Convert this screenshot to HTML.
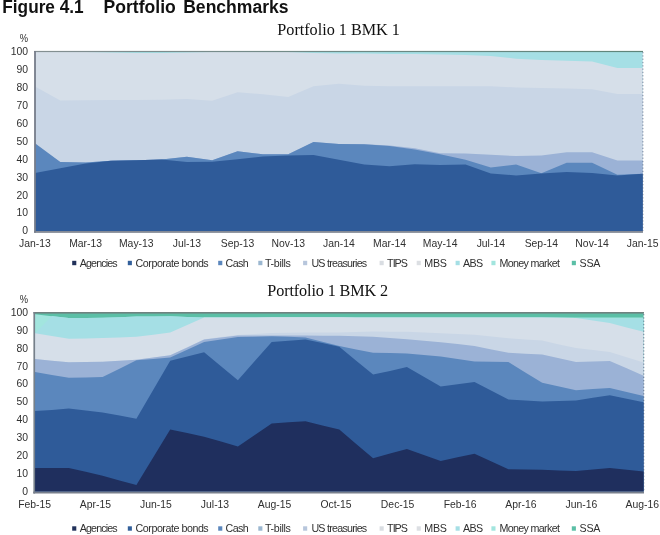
<!DOCTYPE html>
<html><head><meta charset="utf-8"><title>Figure 4.1 Portfolio Benchmarks</title>
<style>html,body{margin:0;padding:0;background:#fff;}body{width:660px;height:535px;position:relative;overflow:hidden;font-family:"Liberation Sans",sans-serif;}</style>
</head><body>
<svg width="660" height="535" viewBox="0 0 660 535" style="position:absolute;left:0;top:0;will-change:transform">
<path d="M35.0 52.0 L60.3 52.0 L85.6 52.0 L111.0 52.0 L136.3 52.0 L161.6 52.0 L186.9 52.0 L212.2 52.0 L237.6 52.0 L262.9 52.0 L288.2 52.0 L313.5 52.0 L338.9 52.0 L364.2 52.0 L389.5 52.0 L414.8 52.0 L440.1 52.0 L465.5 52.0 L490.8 52.0 L516.1 52.0 L541.4 52.0 L566.7 52.0 L592.1 52.0 L617.4 52.0 L642.7 52.0 L642.7 231.0 L617.4 231.0 L592.1 231.0 L566.7 231.0 L541.4 231.0 L516.1 231.0 L490.8 231.0 L465.5 231.0 L440.1 231.0 L414.8 231.0 L389.5 231.0 L364.2 231.0 L338.9 231.0 L313.5 231.0 L288.2 231.0 L262.9 231.0 L237.6 231.0 L212.2 231.0 L186.9 231.0 L161.6 231.0 L136.3 231.0 L111.0 231.0 L85.6 231.0 L60.3 231.0 L35.0 231.0Z" fill="#a5dfe5"/>
<path d="M35.0 52.0 L60.3 52.0 L85.6 52.0 L111.0 52.4 L136.3 52.9 L161.6 52.9 L186.9 52.4 L212.2 52.0 L237.6 52.0 L262.9 52.0 L288.2 52.0 L313.5 52.9 L338.9 53.4 L364.2 53.6 L389.5 53.9 L414.8 54.1 L440.1 54.5 L465.5 55.0 L490.8 55.9 L516.1 58.8 L541.4 60.1 L566.7 60.8 L592.1 61.5 L617.4 68.1 L642.7 68.1 L642.7 231.0 L617.4 231.0 L592.1 231.0 L566.7 231.0 L541.4 231.0 L516.1 231.0 L490.8 231.0 L465.5 231.0 L440.1 231.0 L414.8 231.0 L389.5 231.0 L364.2 231.0 L338.9 231.0 L313.5 231.0 L288.2 231.0 L262.9 231.0 L237.6 231.0 L212.2 231.0 L186.9 231.0 L161.6 231.0 L136.3 231.0 L111.0 231.0 L85.6 231.0 L60.3 231.0 L35.0 231.0Z" fill="#d6dfe9"/>
<path d="M35.0 86.6 L60.3 100.5 L85.6 100.3 L111.0 100.1 L136.3 100.0 L161.6 99.8 L186.9 98.9 L212.2 100.7 L237.6 92.2 L262.9 94.2 L288.2 97.1 L313.5 86.3 L338.9 83.8 L364.2 85.7 L389.5 86.3 L414.8 86.3 L440.1 86.3 L465.5 86.3 L490.8 86.3 L516.1 87.4 L541.4 88.1 L566.7 88.6 L592.1 89.3 L617.4 94.0 L642.7 94.0 L642.7 231.0 L617.4 231.0 L592.1 231.0 L566.7 231.0 L541.4 231.0 L516.1 231.0 L490.8 231.0 L465.5 231.0 L440.1 231.0 L414.8 231.0 L389.5 231.0 L364.2 231.0 L338.9 231.0 L313.5 231.0 L288.2 231.0 L262.9 231.0 L237.6 231.0 L212.2 231.0 L186.9 231.0 L161.6 231.0 L136.3 231.0 L111.0 231.0 L85.6 231.0 L60.3 231.0 L35.0 231.0Z" fill="#c9d6e6"/>
<path d="M35.0 144.8 L60.3 162.1 L85.6 162.6 L111.0 160.8 L136.3 160.3 L161.6 159.5 L186.9 156.8 L212.2 160.3 L237.6 151.3 L262.9 154.3 L288.2 154.3 L313.5 142.1 L338.9 143.9 L364.2 144.2 L389.5 145.5 L414.8 148.2 L440.1 153.2 L465.5 153.6 L490.8 154.7 L516.1 156.1 L541.4 155.6 L566.7 152.3 L592.1 152.3 L617.4 160.4 L642.7 160.4 L642.7 231.0 L617.4 231.0 L592.1 231.0 L566.7 231.0 L541.4 231.0 L516.1 231.0 L490.8 231.0 L465.5 231.0 L440.1 231.0 L414.8 231.0 L389.5 231.0 L364.2 231.0 L338.9 231.0 L313.5 231.0 L288.2 231.0 L262.9 231.0 L237.6 231.0 L212.2 231.0 L186.9 231.0 L161.6 231.0 L136.3 231.0 L111.0 231.0 L85.6 231.0 L60.3 231.0 L35.0 231.0Z" fill="#9bb2d6"/>
<path d="M35.0 143.3 L60.3 162.1 L85.6 162.6 L111.0 160.8 L136.3 160.3 L161.6 159.5 L186.9 156.8 L212.2 160.3 L237.6 151.3 L262.9 154.3 L288.2 154.3 L313.5 142.1 L338.9 143.9 L364.2 144.2 L389.5 145.9 L414.8 149.5 L440.1 154.3 L465.5 159.7 L490.8 167.6 L516.1 164.6 L541.4 173.2 L566.7 162.8 L592.1 162.8 L617.4 174.8 L642.7 173.8 L642.7 231.0 L617.4 231.0 L592.1 231.0 L566.7 231.0 L541.4 231.0 L516.1 231.0 L490.8 231.0 L465.5 231.0 L440.1 231.0 L414.8 231.0 L389.5 231.0 L364.2 231.0 L338.9 231.0 L313.5 231.0 L288.2 231.0 L262.9 231.0 L237.6 231.0 L212.2 231.0 L186.9 231.0 L161.6 231.0 L136.3 231.0 L111.0 231.0 L85.6 231.0 L60.3 231.0 L35.0 231.0Z" fill="#5b87bd"/>
<path d="M35.0 173.0 L60.3 168.2 L85.6 163.5 L111.0 160.8 L136.3 160.3 L161.6 159.5 L186.9 162.1 L212.2 161.7 L237.6 159.2 L262.9 156.5 L288.2 155.6 L313.5 155.0 L338.9 159.7 L364.2 164.6 L389.5 166.2 L414.8 164.2 L440.1 164.9 L465.5 164.6 L490.8 173.6 L516.1 175.4 L541.4 173.6 L566.7 172.1 L592.1 173.0 L617.4 175.4 L642.7 173.8 L642.7 231.0 L617.4 231.0 L592.1 231.0 L566.7 231.0 L541.4 231.0 L516.1 231.0 L490.8 231.0 L465.5 231.0 L440.1 231.0 L414.8 231.0 L389.5 231.0 L364.2 231.0 L338.9 231.0 L313.5 231.0 L288.2 231.0 L262.9 231.0 L237.6 231.0 L212.2 231.0 L186.9 231.0 L161.6 231.0 L136.3 231.0 L111.0 231.0 L85.6 231.0 L60.3 231.0 L35.0 231.0Z" fill="#2f5b99"/>
<defs><linearGradient id="tg" x1="0" x2="1" y1="0" y2="0"><stop offset="0" stop-color="#848f92"/><stop offset="0.5" stop-color="#6f8a86"/><stop offset="1" stop-color="#5f857a"/></linearGradient></defs>
<rect x="34.1" y="50.9" width="608.9" height="1.2" fill="url(#tg)"/>
<rect x="34.1" y="51" width="1.8" height="181.7" fill="#767d8a"/>
<rect x="34.1" y="231.1" width="608.9" height="1.7" fill="#787f8c"/>
<line x1="642.9" y1="52" x2="642.9" y2="231" stroke="#4a5a78" stroke-width="0.8" stroke-dasharray="1.3 2" opacity="0.85"/>
<path d="M35.0 312.5 L51.9 312.5 L68.8 312.5 L85.7 312.5 L102.6 312.5 L119.5 312.5 L136.4 312.5 L153.3 312.5 L170.2 312.5 L187.2 312.5 L204.1 312.5 L221.0 312.5 L237.9 312.5 L254.8 312.5 L271.7 312.5 L288.6 312.5 L305.5 312.5 L322.4 312.5 L339.3 312.5 L356.2 312.5 L373.1 312.5 L390.0 312.5 L406.9 312.5 L423.8 312.5 L440.7 312.5 L457.6 312.5 L474.5 312.5 L491.5 312.5 L508.4 312.5 L525.3 312.5 L542.2 312.5 L559.1 312.5 L576.0 312.5 L592.9 312.5 L609.8 312.5 L626.7 312.5 L643.6 312.5 L643.6 491.5 L626.7 491.5 L609.8 491.5 L592.9 491.5 L576.0 491.5 L559.1 491.5 L542.2 491.5 L525.3 491.5 L508.4 491.5 L491.5 491.5 L474.5 491.5 L457.6 491.5 L440.7 491.5 L423.8 491.5 L406.9 491.5 L390.0 491.5 L373.1 491.5 L356.2 491.5 L339.3 491.5 L322.4 491.5 L305.5 491.5 L288.6 491.5 L271.7 491.5 L254.8 491.5 L237.9 491.5 L221.0 491.5 L204.1 491.5 L187.2 491.5 L170.2 491.5 L153.3 491.5 L136.4 491.5 L119.5 491.5 L102.6 491.5 L85.7 491.5 L68.8 491.5 L51.9 491.5 L35.0 491.5Z" fill="#5bbfa6"/>
<path d="M35.0 314.3 L51.9 316.2 L68.8 318.0 L85.7 317.9 L102.6 317.7 L119.5 317.2 L136.4 316.6 L153.3 316.4 L170.2 316.3 L187.2 316.9 L204.1 317.5 L221.0 317.5 L237.9 317.5 L254.8 317.4 L271.7 317.3 L288.6 317.3 L305.5 317.3 L322.4 317.3 L339.3 317.3 L356.2 317.4 L373.1 317.5 L390.0 317.5 L406.9 317.5 L423.8 317.5 L440.7 317.5 L457.6 317.5 L474.5 317.5 L491.5 317.5 L508.4 317.5 L525.3 317.5 L542.2 317.5 L559.1 317.5 L576.0 317.5 L592.9 317.5 L609.8 317.5 L626.7 317.5 L643.6 317.5 L643.6 491.5 L626.7 491.5 L609.8 491.5 L592.9 491.5 L576.0 491.5 L559.1 491.5 L542.2 491.5 L525.3 491.5 L508.4 491.5 L491.5 491.5 L474.5 491.5 L457.6 491.5 L440.7 491.5 L423.8 491.5 L406.9 491.5 L390.0 491.5 L373.1 491.5 L356.2 491.5 L339.3 491.5 L322.4 491.5 L305.5 491.5 L288.6 491.5 L271.7 491.5 L254.8 491.5 L237.9 491.5 L221.0 491.5 L204.1 491.5 L187.2 491.5 L170.2 491.5 L153.3 491.5 L136.4 491.5 L119.5 491.5 L102.6 491.5 L85.7 491.5 L68.8 491.5 L51.9 491.5 L35.0 491.5Z" fill="#a2e5de"/>
<path d="M35.0 333.3 L51.9 316.1 L68.8 318.0 L85.7 317.9 L102.6 317.7 L119.5 317.2 L136.4 316.6 L153.3 316.4 L170.2 316.3 L187.2 316.9 L204.1 317.5 L221.0 317.5 L237.9 317.5 L254.8 317.4 L271.7 317.3 L288.6 317.3 L305.5 317.3 L322.4 317.3 L339.3 317.3 L356.2 317.4 L373.1 317.5 L390.0 317.5 L406.9 317.5 L423.8 317.5 L440.7 317.5 L457.6 317.5 L474.5 317.5 L491.5 317.5 L508.4 317.5 L525.3 317.5 L542.2 317.5 L559.1 317.7 L576.0 317.9 L592.9 318.1 L609.8 318.4 L626.7 318.4 L643.6 318.4 L643.6 491.5 L626.7 491.5 L609.8 491.5 L592.9 491.5 L576.0 491.5 L559.1 491.5 L542.2 491.5 L525.3 491.5 L508.4 491.5 L491.5 491.5 L474.5 491.5 L457.6 491.5 L440.7 491.5 L423.8 491.5 L406.9 491.5 L390.0 491.5 L373.1 491.5 L356.2 491.5 L339.3 491.5 L322.4 491.5 L305.5 491.5 L288.6 491.5 L271.7 491.5 L254.8 491.5 L237.9 491.5 L221.0 491.5 L204.1 491.5 L187.2 491.5 L170.2 491.5 L153.3 491.5 L136.4 491.5 L119.5 491.5 L102.6 491.5 L85.7 491.5 L68.8 491.5 L51.9 491.5 L35.0 491.5Z" fill="#a5dfe5"/>
<path d="M35.0 333.3 L51.9 336.0 L68.8 338.8 L85.7 338.5 L102.6 338.1 L119.5 337.5 L136.4 336.8 L153.3 334.7 L170.2 332.5 L187.2 325.0 L204.1 317.5 L221.0 317.5 L237.9 317.5 L254.8 317.4 L271.7 317.3 L288.6 317.3 L305.5 317.3 L322.4 317.3 L339.3 317.3 L356.2 317.4 L373.1 317.5 L390.0 317.5 L406.9 317.5 L423.8 317.5 L440.7 317.5 L457.6 317.5 L474.5 317.5 L491.5 317.5 L508.4 317.5 L525.3 317.5 L542.2 317.5 L559.1 317.7 L576.0 317.9 L592.9 320.5 L609.8 323.1 L626.7 327.4 L643.6 331.7 L643.6 491.5 L626.7 491.5 L609.8 491.5 L592.9 491.5 L576.0 491.5 L559.1 491.5 L542.2 491.5 L525.3 491.5 L508.4 491.5 L491.5 491.5 L474.5 491.5 L457.6 491.5 L440.7 491.5 L423.8 491.5 L406.9 491.5 L390.0 491.5 L373.1 491.5 L356.2 491.5 L339.3 491.5 L322.4 491.5 L305.5 491.5 L288.6 491.5 L271.7 491.5 L254.8 491.5 L237.9 491.5 L221.0 491.5 L204.1 491.5 L187.2 491.5 L170.2 491.5 L153.3 491.5 L136.4 491.5 L119.5 491.5 L102.6 491.5 L85.7 491.5 L68.8 491.5 L51.9 491.5 L35.0 491.5Z" fill="#d6dfe9"/>
<path d="M35.0 359.0 L51.9 360.7 L68.8 362.3 L85.7 362.0 L102.6 361.7 L119.5 360.7 L136.4 359.8 L153.3 357.5 L170.2 355.3 L187.2 347.2 L204.1 339.2 L221.0 337.0 L237.9 334.9 L254.8 333.9 L271.7 332.9 L288.6 332.7 L305.5 332.5 L322.4 332.5 L339.3 332.4 L356.2 331.9 L373.1 331.5 L390.0 331.7 L406.9 331.8 L423.8 332.5 L440.7 333.3 L457.6 334.0 L474.5 334.7 L491.5 336.5 L508.4 338.3 L525.3 339.4 L542.2 340.6 L559.1 344.4 L576.0 348.1 L592.9 350.0 L609.8 351.9 L626.7 357.2 L643.6 362.4 L643.6 491.5 L626.7 491.5 L609.8 491.5 L592.9 491.5 L576.0 491.5 L559.1 491.5 L542.2 491.5 L525.3 491.5 L508.4 491.5 L491.5 491.5 L474.5 491.5 L457.6 491.5 L440.7 491.5 L423.8 491.5 L406.9 491.5 L390.0 491.5 L373.1 491.5 L356.2 491.5 L339.3 491.5 L322.4 491.5 L305.5 491.5 L288.6 491.5 L271.7 491.5 L254.8 491.5 L237.9 491.5 L221.0 491.5 L204.1 491.5 L187.2 491.5 L170.2 491.5 L153.3 491.5 L136.4 491.5 L119.5 491.5 L102.6 491.5 L85.7 491.5 L68.8 491.5 L51.9 491.5 L35.0 491.5Z" fill="#c9d6e6"/>
<path d="M35.0 359.0 L51.9 360.7 L68.8 362.3 L85.7 362.0 L102.6 361.7 L119.5 360.7 L136.4 359.8 L153.3 357.5 L170.2 355.3 L187.2 347.4 L204.1 339.5 L221.0 337.6 L237.9 335.6 L254.8 335.5 L271.7 335.4 L288.6 335.5 L305.5 335.6 L322.4 335.7 L339.3 335.8 L356.2 336.2 L373.1 336.7 L390.0 337.9 L406.9 339.2 L423.8 340.7 L440.7 342.2 L457.6 344.1 L474.5 346.0 L491.5 349.4 L508.4 352.8 L525.3 353.7 L542.2 354.6 L559.1 358.2 L576.0 361.9 L592.9 361.5 L609.8 361.0 L626.7 368.3 L643.6 375.7 L643.6 491.5 L626.7 491.5 L609.8 491.5 L592.9 491.5 L576.0 491.5 L559.1 491.5 L542.2 491.5 L525.3 491.5 L508.4 491.5 L491.5 491.5 L474.5 491.5 L457.6 491.5 L440.7 491.5 L423.8 491.5 L406.9 491.5 L390.0 491.5 L373.1 491.5 L356.2 491.5 L339.3 491.5 L322.4 491.5 L305.5 491.5 L288.6 491.5 L271.7 491.5 L254.8 491.5 L237.9 491.5 L221.0 491.5 L204.1 491.5 L187.2 491.5 L170.2 491.5 L153.3 491.5 L136.4 491.5 L119.5 491.5 L102.6 491.5 L85.7 491.5 L68.8 491.5 L51.9 491.5 L35.0 491.5Z" fill="#9bb2d6"/>
<path d="M35.0 371.9 L51.9 374.9 L68.8 377.8 L85.7 377.5 L102.6 377.1 L119.5 368.7 L136.4 360.3 L153.3 358.9 L170.2 357.4 L187.2 349.7 L204.1 342.0 L221.0 339.5 L237.9 337.0 L254.8 336.7 L271.7 336.3 L288.6 336.8 L305.5 337.4 L322.4 341.7 L339.3 346.0 L356.2 349.4 L373.1 352.8 L390.0 353.1 L406.9 353.5 L423.8 354.9 L440.7 356.4 L457.6 358.9 L474.5 361.4 L491.5 361.7 L508.4 362.1 L525.3 372.4 L542.2 382.7 L559.1 386.4 L576.0 390.2 L592.9 389.0 L609.8 387.9 L626.7 391.9 L643.6 395.9 L643.6 491.5 L626.7 491.5 L609.8 491.5 L592.9 491.5 L576.0 491.5 L559.1 491.5 L542.2 491.5 L525.3 491.5 L508.4 491.5 L491.5 491.5 L474.5 491.5 L457.6 491.5 L440.7 491.5 L423.8 491.5 L406.9 491.5 L390.0 491.5 L373.1 491.5 L356.2 491.5 L339.3 491.5 L322.4 491.5 L305.5 491.5 L288.6 491.5 L271.7 491.5 L254.8 491.5 L237.9 491.5 L221.0 491.5 L204.1 491.5 L187.2 491.5 L170.2 491.5 L153.3 491.5 L136.4 491.5 L119.5 491.5 L102.6 491.5 L85.7 491.5 L68.8 491.5 L51.9 491.5 L35.0 491.5Z" fill="#5b87bd"/>
<path d="M35.0 411.1 L51.9 409.9 L68.8 408.6 L85.7 410.5 L102.6 412.4 L119.5 415.6 L136.4 418.8 L153.3 389.8 L170.2 360.8 L187.2 356.5 L204.1 352.2 L221.0 366.2 L237.9 380.2 L254.8 361.1 L271.7 342.0 L288.6 340.8 L305.5 339.5 L322.4 343.1 L339.3 346.7 L356.2 360.7 L373.1 374.6 L390.0 370.9 L406.9 367.1 L423.8 376.8 L440.7 386.4 L457.6 384.3 L474.5 382.1 L491.5 390.8 L508.4 399.5 L525.3 400.6 L542.2 401.6 L559.1 401.0 L576.0 400.4 L592.9 397.8 L609.8 395.2 L626.7 398.7 L643.6 402.2 L643.6 491.5 L626.7 491.5 L609.8 491.5 L592.9 491.5 L576.0 491.5 L559.1 491.5 L542.2 491.5 L525.3 491.5 L508.4 491.5 L491.5 491.5 L474.5 491.5 L457.6 491.5 L440.7 491.5 L423.8 491.5 L406.9 491.5 L390.0 491.5 L373.1 491.5 L356.2 491.5 L339.3 491.5 L322.4 491.5 L305.5 491.5 L288.6 491.5 L271.7 491.5 L254.8 491.5 L237.9 491.5 L221.0 491.5 L204.1 491.5 L187.2 491.5 L170.2 491.5 L153.3 491.5 L136.4 491.5 L119.5 491.5 L102.6 491.5 L85.7 491.5 L68.8 491.5 L51.9 491.5 L35.0 491.5Z" fill="#2f5b99"/>
<path d="M35.0 467.9 L51.9 467.9 L68.8 467.9 L85.7 471.8 L102.6 475.7 L119.5 480.4 L136.4 485.1 L153.3 457.3 L170.2 429.6 L187.2 433.1 L204.1 436.7 L221.0 441.6 L237.9 446.4 L254.8 434.9 L271.7 423.5 L288.6 422.3 L305.5 421.2 L322.4 425.4 L339.3 429.6 L356.2 443.9 L373.1 458.2 L390.0 453.6 L406.9 448.9 L423.8 454.9 L440.7 460.9 L457.6 457.3 L474.5 453.7 L491.5 461.5 L508.4 469.3 L525.3 469.6 L542.2 469.8 L559.1 470.5 L576.0 471.1 L592.9 469.5 L609.8 467.9 L626.7 469.7 L643.6 471.5 L643.6 491.5 L626.7 491.5 L609.8 491.5 L592.9 491.5 L576.0 491.5 L559.1 491.5 L542.2 491.5 L525.3 491.5 L508.4 491.5 L491.5 491.5 L474.5 491.5 L457.6 491.5 L440.7 491.5 L423.8 491.5 L406.9 491.5 L390.0 491.5 L373.1 491.5 L356.2 491.5 L339.3 491.5 L322.4 491.5 L305.5 491.5 L288.6 491.5 L271.7 491.5 L254.8 491.5 L237.9 491.5 L221.0 491.5 L204.1 491.5 L187.2 491.5 L170.2 491.5 L153.3 491.5 L136.4 491.5 L119.5 491.5 L102.6 491.5 L85.7 491.5 L68.8 491.5 L51.9 491.5 L35.0 491.5Z" fill="#1f2f5e"/>
<rect x="33.5" y="312" width="610.5" height="1.6" fill="#6f8280"/>
<rect x="33.4" y="312" width="1.7" height="181.5" fill="#76808a"/>
<rect x="33.2" y="491.6" width="610.8" height="1.9" fill="#787f8c"/>
<line x1="643.8" y1="314" x2="643.8" y2="491.5" stroke="#3a4a68" stroke-width="0.8" stroke-dasharray="1.3 2" opacity="0.85"/>
<g fill="#303030" style="font-family:'Liberation Sans',sans-serif;">
<text x="28.0" y="234.3" font-size="10.4" text-anchor="end">0</text>
<text x="28.0" y="494.8" font-size="10.4" text-anchor="end">0</text>
<text x="28.0" y="216.4" font-size="10.4" text-anchor="end">10</text>
<text x="28.0" y="476.9" font-size="10.4" text-anchor="end">10</text>
<text x="28.0" y="198.5" font-size="10.4" text-anchor="end">20</text>
<text x="28.0" y="459.0" font-size="10.4" text-anchor="end">20</text>
<text x="28.0" y="180.6" font-size="10.4" text-anchor="end">30</text>
<text x="28.0" y="441.1" font-size="10.4" text-anchor="end">30</text>
<text x="28.0" y="162.7" font-size="10.4" text-anchor="end">40</text>
<text x="28.0" y="423.2" font-size="10.4" text-anchor="end">40</text>
<text x="28.0" y="144.8" font-size="10.4" text-anchor="end">50</text>
<text x="28.0" y="405.3" font-size="10.4" text-anchor="end">50</text>
<text x="28.0" y="126.9" font-size="10.4" text-anchor="end">60</text>
<text x="28.0" y="387.4" font-size="10.4" text-anchor="end">60</text>
<text x="28.0" y="109.0" font-size="10.4" text-anchor="end">70</text>
<text x="28.0" y="369.5" font-size="10.4" text-anchor="end">70</text>
<text x="28.0" y="91.1" font-size="10.4" text-anchor="end">80</text>
<text x="28.0" y="351.6" font-size="10.4" text-anchor="end">80</text>
<text x="28.0" y="73.2" font-size="10.4" text-anchor="end">90</text>
<text x="28.0" y="333.7" font-size="10.4" text-anchor="end">90</text>
<text x="28.0" y="55.3" font-size="10.4" text-anchor="end">100</text>
<text x="28.0" y="315.8" font-size="10.4" text-anchor="end">100</text>
<text x="19.7" y="41.9" font-size="10.4" textLength="8.3" lengthAdjust="spacingAndGlyphs">%</text>
<text x="19.7" y="303.3" font-size="10.4" textLength="8.3" lengthAdjust="spacingAndGlyphs">%</text>
<text x="35.0" y="247.4" font-size="10.4" text-anchor="middle">Jan-13</text>
<text x="85.6" y="247.4" font-size="10.4" text-anchor="middle">Mar-13</text>
<text x="136.3" y="247.4" font-size="10.4" text-anchor="middle">May-13</text>
<text x="186.9" y="247.4" font-size="10.4" text-anchor="middle">Jul-13</text>
<text x="237.6" y="247.4" font-size="10.4" text-anchor="middle">Sep-13</text>
<text x="288.2" y="247.4" font-size="10.4" text-anchor="middle">Nov-13</text>
<text x="338.9" y="247.4" font-size="10.4" text-anchor="middle">Jan-14</text>
<text x="389.5" y="247.4" font-size="10.4" text-anchor="middle">Mar-14</text>
<text x="440.1" y="247.4" font-size="10.4" text-anchor="middle">May-14</text>
<text x="490.8" y="247.4" font-size="10.4" text-anchor="middle">Jul-14</text>
<text x="541.4" y="247.4" font-size="10.4" text-anchor="middle">Sep-14</text>
<text x="592.1" y="247.4" font-size="10.4" text-anchor="middle">Nov-14</text>
<text x="642.7" y="247.4" font-size="10.4" text-anchor="middle">Jan-15</text>
<text x="34.6" y="507.9" font-size="10.4" text-anchor="middle">Feb-15</text>
<text x="95.4" y="507.9" font-size="10.4" text-anchor="middle">Apr-15</text>
<text x="156.0" y="507.9" font-size="10.4" text-anchor="middle">Jun-15</text>
<text x="215.0" y="507.9" font-size="10.4" text-anchor="middle">Jul-13</text>
<text x="274.5" y="507.9" font-size="10.4" text-anchor="middle">Aug-15</text>
<text x="336.0" y="507.9" font-size="10.4" text-anchor="middle">Oct-15</text>
<text x="397.6" y="507.9" font-size="10.4" text-anchor="middle">Dec-15</text>
<text x="460.1" y="507.9" font-size="10.4" text-anchor="middle">Feb-16</text>
<text x="520.9" y="507.9" font-size="10.4" text-anchor="middle">Apr-16</text>
<text x="581.4" y="507.9" font-size="10.4" text-anchor="middle">Jun-16</text>
<text x="642.3" y="507.9" font-size="10.4" text-anchor="middle">Aug-16</text>
</g>
<g fill="#303030" style="font-family:'Liberation Sans',sans-serif;">
<rect x="72.2" y="260.8" width="4.1" height="4.4" fill="#21315a"/>
<text x="79.7" y="266.7" font-size="10.7" textLength="38.0" lengthAdjust="spacing">Agencies</text>
<rect x="127.8" y="260.8" width="4.1" height="4.4" fill="#33609b"/>
<text x="135.6" y="266.7" font-size="10.7" textLength="73.1" lengthAdjust="spacing">Corporate bonds</text>
<rect x="218.2" y="260.8" width="4.1" height="4.4" fill="#5b87bd"/>
<text x="225.6" y="266.7" font-size="10.7" textLength="23.0" lengthAdjust="spacing">Cash</text>
<rect x="258.3" y="260.8" width="4.1" height="4.4" fill="#9bb7d0"/>
<text x="265.0" y="266.7" font-size="10.7" textLength="25.9" lengthAdjust="spacing">T-bills</text>
<rect x="303.1" y="260.8" width="4.1" height="4.4" fill="#b7c6dc"/>
<text x="311.4" y="266.7" font-size="10.7" textLength="55.8" lengthAdjust="spacing">US treasuries</text>
<rect x="379.6" y="260.8" width="4.1" height="4.4" fill="#d9dde2"/>
<text x="387.1" y="266.7" font-size="10.7" textLength="20.8" lengthAdjust="spacing">TIPS</text>
<rect x="416.7" y="260.8" width="4.1" height="4.4" fill="#dcdfe3"/>
<text x="424.2" y="266.7" font-size="10.7" textLength="22.8" lengthAdjust="spacing">MBS</text>
<rect x="455.6" y="260.8" width="4.1" height="4.4" fill="#a5dfe5"/>
<text x="462.9" y="266.7" font-size="10.7" textLength="20.2" lengthAdjust="spacing">ABS</text>
<rect x="491.4" y="260.8" width="4.1" height="4.4" fill="#a2e5de"/>
<text x="499.4" y="266.7" font-size="10.7" textLength="60.5" lengthAdjust="spacing">Money market</text>
<rect x="571.8" y="260.8" width="4.1" height="4.4" fill="#5bbfa6"/>
<text x="579.6" y="266.7" font-size="10.7" textLength="20.7" lengthAdjust="spacing">SSA</text>
</g>
<g fill="#303030" style="font-family:'Liberation Sans',sans-serif;">
<rect x="72.2" y="526.3" width="4.1" height="4.4" fill="#21315a"/>
<text x="79.7" y="531.9" font-size="10.7" textLength="38.0" lengthAdjust="spacing">Agencies</text>
<rect x="127.8" y="526.3" width="4.1" height="4.4" fill="#33609b"/>
<text x="135.6" y="531.9" font-size="10.7" textLength="73.1" lengthAdjust="spacing">Corporate bonds</text>
<rect x="218.2" y="526.3" width="4.1" height="4.4" fill="#5b87bd"/>
<text x="225.6" y="531.9" font-size="10.7" textLength="23.0" lengthAdjust="spacing">Cash</text>
<rect x="258.3" y="526.3" width="4.1" height="4.4" fill="#9bb7d0"/>
<text x="265.0" y="531.9" font-size="10.7" textLength="25.9" lengthAdjust="spacing">T-bills</text>
<rect x="303.1" y="526.3" width="4.1" height="4.4" fill="#b7c6dc"/>
<text x="311.4" y="531.9" font-size="10.7" textLength="55.8" lengthAdjust="spacing">US treasuries</text>
<rect x="379.6" y="526.3" width="4.1" height="4.4" fill="#d9dde2"/>
<text x="387.1" y="531.9" font-size="10.7" textLength="20.8" lengthAdjust="spacing">TIPS</text>
<rect x="416.7" y="526.3" width="4.1" height="4.4" fill="#dcdfe3"/>
<text x="424.2" y="531.9" font-size="10.7" textLength="22.8" lengthAdjust="spacing">MBS</text>
<rect x="455.6" y="526.3" width="4.1" height="4.4" fill="#a5dfe5"/>
<text x="462.9" y="531.9" font-size="10.7" textLength="20.2" lengthAdjust="spacing">ABS</text>
<rect x="491.4" y="526.3" width="4.1" height="4.4" fill="#a2e5de"/>
<text x="499.4" y="531.9" font-size="10.7" textLength="60.5" lengthAdjust="spacing">Money market</text>
<rect x="571.8" y="526.3" width="4.1" height="4.4" fill="#5bbfa6"/>
<text x="579.6" y="531.9" font-size="10.7" textLength="20.7" lengthAdjust="spacing">SSA</text>
</g>
<text x="2.3" y="12.6" textLength="81.4" lengthAdjust="spacingAndGlyphs" font-size="17.6" font-weight="bold" fill="#111" style="font-family:'Liberation Sans',sans-serif;">Figure 4.1</text>
<text x="103.6" y="12.6" textLength="72.2" lengthAdjust="spacingAndGlyphs" font-size="17.6" font-weight="bold" fill="#111" style="font-family:'Liberation Sans',sans-serif;">Portfolio</text>
<text x="183.2" y="12.6" textLength="105.4" lengthAdjust="spacingAndGlyphs" font-size="17.6" font-weight="bold" fill="#111" style="font-family:'Liberation Sans',sans-serif;">Benchmarks</text>
<text x="277.3" y="35.2" textLength="122.6" lengthAdjust="spacing" font-size="16.2" fill="#111" style="font-family:'Liberation Serif',serif;">Portfolio 1 BMK 1</text>
<text x="267.3" y="296.3" textLength="120.8" lengthAdjust="spacing" font-size="16.2" fill="#111" style="font-family:'Liberation Serif',serif;">Portfolio 1 BMK 2</text>
</svg>
</body></html>
